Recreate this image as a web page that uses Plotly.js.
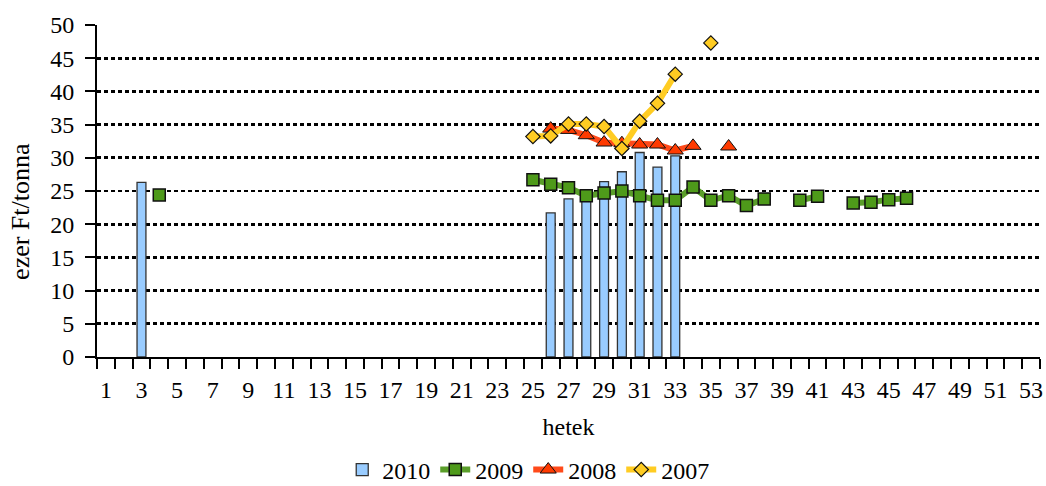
<!DOCTYPE html>
<html>
<head>
<meta charset="utf-8">
<script src="https://cdn.plot.ly/plotly-3.0.1.min.js"></script>
<style>html,body{margin:0;padding:0;background:#fff;}#chart{width:1046px;height:486px;}</style>
</head>
<body>
<div id="chart"></div>
<script>
const weeks = Array.from({length: 53}, (_, i) => i + 1);
const tickLabels = ["1","3","5","7","9","11","13","15","17","19","21","23","25","27","29","31","33","35","37","39","41","43","45","47","49","51","53"];

// values by week (null = no data)
const s2010 = {3: 26.3, 26: 21.7, 27: 23.8, 28: 24.5, 29: 26.4, 30: 27.9, 31: 30.8, 32: 28.6, 33: 30.3};
const s2009 = {4: 24.4, 25: 26.7, 26: 26.0, 27: 25.5, 28: 24.3, 29: 24.7, 30: 25.0, 31: 24.3, 32: 23.6, 33: 23.6,
               34: 25.6, 35: 23.6, 36: 24.3, 37: 22.8, 38: 23.8, 40: 23.6, 41: 24.2, 43: 23.2, 44: 23.3, 45: 23.7, 46: 23.9};
const s2008 = {26: 34.4, 27: 34.2, 28: 33.4, 29: 32.3, 30: 32.2, 31: 32.0, 32: 32.0, 33: 31.1, 34: 31.8, 36: 31.7};
const s2007 = {25: 33.2, 26: 33.3, 27: 35.1, 28: 35.1, 29: 34.7, 30: 31.4, 31: 35.5, 32: 38.2, 33: 42.6, 35: 47.3};

const xTitle = 'hetek';
const yTitle = 'ezer Ft/tonna';

const toArr = o => weeks.map(w => (o[w] === undefined ? null : o[w]));

const font = "Liberation Serif";

const traces = [
  {type: 'bar', name: '2010', x: weeks, y: toArr(s2010), width: 0.5,
   marker: {color: '#99CCFF', line: {color: '#333', width: 1.3}}},
  {type: 'scatter', mode: 'lines+markers', name: '2009', x: weeks, y: toArr(s2009),
   line: {color: '#5A9E2A', width: 6}, marker: {symbol: 'square', size: 12, color: '#4E9A1A', line: {color: '#111', width: 1.5}}},
  {type: 'scatter', mode: 'lines+markers', name: '2008', x: weeks, y: toArr(s2008),
   line: {color: '#FF4A1A', width: 6}, marker: {symbol: 'triangle-up', size: 14, color: '#FF3A00', line: {color: '#111', width: 1}}},
  {type: 'scatter', mode: 'lines+markers', name: '2007', x: weeks, y: toArr(s2007),
   line: {color: '#FFCC22', width: 6}, marker: {symbol: 'diamond', size: 11, color: '#FFCC22', line: {color: '#111', width: 1.2}}}
];

const layout = {
  width: 1046, height: 486,
  margin: {l: 97, r: 6, t: 25, b: 129},
  paper_bgcolor: '#fff', plot_bgcolor: '#fff',
  font: {family: font, size: 24, color: '#000'},
  showlegend: true,
  legend: {orientation: 'h', x: 0.505, xanchor: 'center', xref: 'container', y: 0.033, yanchor: 'middle', yref: 'container',
           font: {family: font, size: 24}},
  xaxis: {
    range: [0.5, 53.5], type: 'linear', automargin: false,
    tickmode: 'array', tickvals: tickLabels.map(Number), ticktext: tickLabels,
    ticks: '', showgrid: false, zeroline: false,
    showline: true, linecolor: '#000', linewidth: 2,
    tickfont: {family: font, size: 24}, ticklabelstandoff: 10,
    minor: {tick0: 0.5, dtick: 1, ticks: 'outside', ticklen: 10, tickwidth: 2, tickcolor: '#000', showgrid: false},
    title: {text: xTitle, font: {family: font, size: 24}, standoff: 16}
  },
  yaxis: {
    range: [0, 50], dtick: 5, tick0: 0, automargin: false,
    ticks: 'outside', ticklen: 10, tickwidth: 2, tickcolor: '#000',
    showline: true, linecolor: '#000', linewidth: 2,
    showgrid: true, gridcolor: '#000', gridwidth: 2.8, griddash: '4px,3px',
    zeroline: false,
    tickfont: {family: font, size: 24}, ticklabelstandoff: 6
  },
  annotations: [
    {text: yTitle, textangle: -90, xref: 'paper', x: -0.0806, xanchor: 'center',
     yref: 'paper', y: 0.44, yanchor: 'middle', showarrow: false, font: {family: font, size: 26}}
  ]
};

Plotly.newPlot('chart', traces, layout, {displayModeBar: false, staticPlot: true});
</script>
</body>
</html>
